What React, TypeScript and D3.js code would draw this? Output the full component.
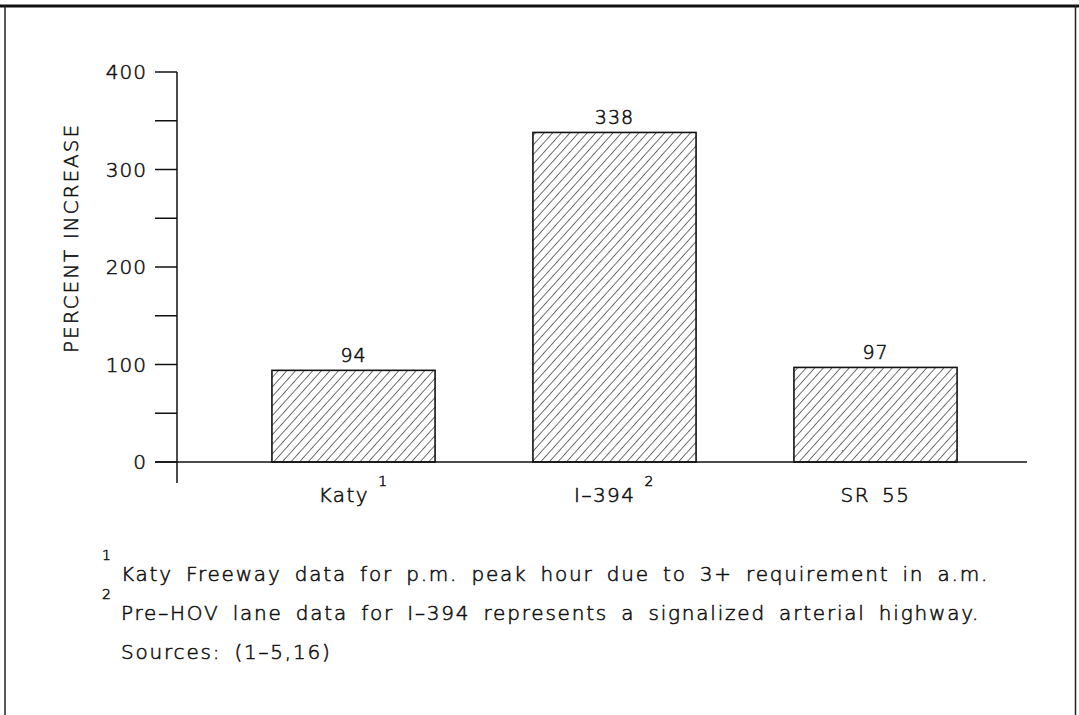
import React from "react";
import * as d3 from "d3";

const categories = ["Katy", "I–394", "SR 55"];
const footMarks = ["1", "2", ""];
const values = [94, 338, 97];
const yTicks = [0, 50, 100, 150, 200, 250, 300, 350, 400];
const yTickLabels = ["0", "100", "200", "300", "400"];
const yTitle = "PERCENT INCREASE";
const footnotes = [
  { mark: "1", text: "Katy Freeway data for p.m. peak hour due to 3+ requirement in a.m." },
  { mark: "2", text: "Pre–HOV lane data for I–394 represents a signalized arterial highway." },
  { mark: "", text: "Sources:  (1–5,16)" },
];

const W = 1079;
const H = 715;
const FONT = "'DejaVu Sans', sans-serif";

export default function App() {
  const y = d3.scaleLinear().domain([0, 400]).range([462, 72]);
  const x = d3
    .scaleBand<string>()
    .domain(categories)
    .range([223, 1006])
    .paddingInner(0.375)
    .paddingOuter(0.1875);
  const axisX = 177;
  const tickLen = 22;
  const txt = { fill: "#111", stroke: "#111", strokeWidth: 0.55 };

  return (
    <svg
      width={W}
      height={H}
      style={{ position: "absolute", left: 0, top: 0, background: "#fff" }}
      fontFamily={FONT}
      fontWeight={200}
    >
      <defs>
        <pattern
          id="hatch"
          patternUnits="userSpaceOnUse"
          width={6.4}
          height={6.4}
          patternTransform="rotate(42)"
        >
          <line x1={0} y1={0} x2={0} y2={6.4} stroke="#111" strokeWidth={1.2} />
        </pattern>
      </defs>

      {/* frame */}
      <line x1={0} x2={W} y1={6} y2={6} stroke="#111" strokeWidth={3} />
      <line x1={5} x2={5} y1={5} y2={H} stroke="#222" strokeWidth={1.5} />
      <line x1={1075.5} x2={1075.5} y1={5} y2={H} stroke="#222" strokeWidth={1.5} />

      {/* bars */}
      {categories.map((c, i) => {
        const cx = (x(c) as number) + x.bandwidth() / 2;
        return (
          <g key={c}>
            <rect
              x={x(c)}
              y={y(values[i])}
              width={x.bandwidth()}
              height={y(0) - y(values[i])}
              fill="url(#hatch)"
              stroke="#111"
              strokeWidth={1.6}
            />
            <text
              x={cx}
              y={y(values[i]) - 8}
              textAnchor="middle"
              fontSize={19}
              letterSpacing={1}
              {...txt}
            >
              {values[i]}
            </text>
            <text
              x={cx}
              y={502}
              textAnchor="middle"
              fontSize={20}
              letterSpacing={1.5}
              wordSpacing={4}
              {...txt}
            >
              {c}
              {footMarks[i] && (
                <tspan dx={9} dy={-16} fontSize={14}>
                  {footMarks[i]}
                </tspan>
              )}
            </text>
          </g>
        );
      })}

      {/* y axis */}
      <line x1={axisX} x2={axisX} y1={y(400)} y2={483} stroke="#111" strokeWidth={1.5} />
      {yTicks.map((t) => (
        <line
          key={t}
          x1={axisX - tickLen}
          x2={axisX}
          y1={y(t)}
          y2={y(t)}
          stroke="#111"
          strokeWidth={1.5}
        />
      ))}
      {yTickLabels.map((l) => (
        <text
          key={l}
          x={147}
          y={y(+l)}
          dy="0.36em"
          textAnchor="end"
          fontSize={20}
          letterSpacing={1}
          {...txt}
        >
          {l}
        </text>
      ))}
      <text
        transform={`translate(78,238) rotate(-90)`}
        textAnchor="middle"
        fontSize={20}
        letterSpacing={2}
        {...txt}
      >
        {yTitle}
      </text>

      {/* x axis baseline */}
      <line x1={axisX - tickLen} x2={1027} y1={y(0)} y2={y(0)} stroke="#111" strokeWidth={1.5} />

      {/* footnotes */}
      {footnotes.map((f, i) => (
        <g key={i}>
          {f.mark && (
            <text x={102} y={560 + i * 39} fontSize={14} {...txt}>
              {f.mark}
            </text>
          )}
          <text
            x={121}
            y={581 + i * 39}
            fontSize={20}
            letterSpacing={1.8}
            wordSpacing={5}
            {...txt}
          >
            {f.text}
          </text>
        </g>
      ))}
    </svg>
  );
}
